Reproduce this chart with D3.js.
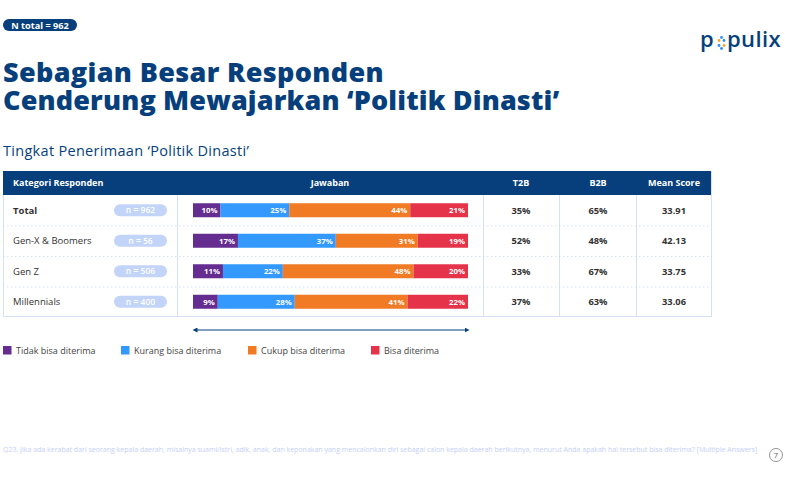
<!DOCTYPE html>
<html><head><meta charset="utf-8">
<script src="https://cdn.jsdelivr.net/npm/d3@7"></script>
<style>body{margin:0;background:#fff}svg{display:block;font-family:"Open Sans",sans-serif}</style>
</head><body><svg id="c" width="785" height="479"></svg>
<script>
const categories = ["Total","Gen-X & Boomers","Gen Z","Millennials"];
const sampleSizes = ["n = 962","n = 56","n = 506","n = 400"];
const seriesNames = ["Tidak bisa diterima","Kurang bisa diterima","Cukup bisa diterima","Bisa diterima"];
const tidak = [10,17,11,9];
const kurang = [25,37,22,28];
const cukup = [44,31,48,41];
const bisa = [21,19,20,22];
const t2b = ["35%","52%","33%","37%"];
const b2b = ["65%","48%","67%","63%"];
const meanScore = ["33.91","42.13","33.75","33.06"];
const colors = ["#662d91","#3399ff","#f07b24","#e5344a"];
const NAVY = "#063f7c";

const svg = d3.select("#c");

// top pill
svg.append("rect").attr("x",3).attr("y",19).attr("width",74).attr("height",12).attr("rx",6).attr("fill",NAVY);
svg.append("text").attr("x",40).attr("y",28.5).attr("text-anchor","middle").attr("fill","#fff")
  .attr("font-size",9.2).attr("font-weight",700).text("N total = 962");

// logo
const logo = svg.append("g").attr("fill",NAVY).attr("font-size",22).attr("font-weight",600);
logo.append("text").attr("x",700).attr("y",47).text("p");
[[719,40.5,"#f5a623"],[724,40.5,"#2d8cff"],[719,45.5,"#2d8cff"],[724,45.5,"#f5a623"],[721.5,37.5,"#2d8cff"],[721.5,48.5,"#2d8cff"]].forEach(d=>{
  svg.append("circle").attr("cx",d[0]).attr("cy",d[1]).attr("r",1.4).attr("fill",d[2]);
});
logo.append("text").attr("x",727).attr("y",47).attr("letter-spacing",0.4).text("pulix");

// title (single text element, two lines)
const title = svg.append("text").attr("fill",NAVY).attr("font-size",27).attr("font-weight",800).attr("letter-spacing",0.35);
title.append("tspan").attr("x",3).attr("y",82).text("Sebagian Besar Responden");
title.append("tspan").attr("x",3).attr("y",110).attr("letter-spacing",0.15).text("Cenderung Mewajarkan \u2018Politik Dinasti\u2019");
svg.append("text").attr("x",3).attr("y",156).attr("fill",NAVY).attr("font-size",14.5).attr("letter-spacing",0.3).text("Tingkat Penerimaan \u2018Politik Dinasti\u2019");

// table
const tableL = 3, tableR = 712, headT = 171, headB = 195, tableB = 317;
const y = d3.scaleBand().domain(categories).range([headB, tableB]);
const x = d3.scaleLinear().domain([0,1]).range([193,468]);
const LINE = "#d5e1f7";

svg.append("rect").attr("x",tableL).attr("y",headT).attr("width",tableR-tableL).attr("height",headB-headT).attr("fill",NAVY);
const hdr = svg.append("g").attr("fill","#fff").attr("font-size",9).attr("font-weight",700);
hdr.append("text").attr("x",13).attr("y",186).text("Kategori Responden");
hdr.append("text").attr("x",330).attr("y",186).attr("text-anchor","middle").text("Jawaban");
hdr.append("text").attr("x",521).attr("y",186).attr("text-anchor","middle").text("T2B");
hdr.append("text").attr("x",598).attr("y",186).attr("text-anchor","middle").text("B2B");
hdr.append("text").attr("x",674).attr("y",186).attr("text-anchor","middle").text("Mean Score");

// borders
const grid = svg.append("g").attr("stroke",LINE).attr("fill","none");
grid.append("line").attr("x1",tableL+0.5).attr("x2",tableL+0.5).attr("y1",headB).attr("y2",tableB);
grid.append("line").attr("x1",tableR-0.5).attr("x2",tableR-0.5).attr("y1",headT).attr("y2",tableB);
grid.append("line").attr("x1",tableL).attr("x2",tableR).attr("y1",tableB-0.5).attr("y2",tableB-0.5);
[177.5,483.5,559.5,636.5].forEach(cx=>grid.append("line").attr("x1",cx).attr("x2",cx).attr("y1",headB).attr("y2",tableB));
categories.slice(1).forEach(c=>{
  grid.append("line").attr("x1",tableL).attr("x2",tableR).attr("y1",y(c)+0.5).attr("y2",y(c)+0.5).attr("stroke-dasharray","1.5,2.5");
});

// stacked data
const rows = categories.map((c,i)=>({cat:c, n:sampleSizes[i], vals:[tidak[i],kurang[i],cukup[i],bisa[i]], t2b:t2b[i], b2b:b2b[i], mean:meanScore[i]}));
const stack = d3.stack().keys([0,1,2,3]).value((d,k)=>d.vals[k]/d3.sum(d.vals))(rows);

const bh = 14;
rows.forEach((r,i)=>{
  const cy = y(r.cat) + y.bandwidth()/2;
  svg.append("text").attr("x",13).attr("y",cy+3.3).attr("font-size",9.5).attr("fill","#333")
    .attr("font-weight", i===0?700:400).text(r.cat);
  svg.append("rect").attr("x",114).attr("y",cy-6).attr("width",53).attr("height",12).attr("rx",6).attr("fill","#c3d4f9");
  svg.append("text").attr("x",140.5).attr("y",cy+3).attr("text-anchor","middle").attr("fill","#fff").attr("font-size",8.5).attr("font-weight",600).text(r.n);
  const cols = svg.append("g").attr("font-size",9.3).attr("font-weight",700).attr("fill","#333").attr("text-anchor","middle");
  cols.append("text").attr("x",521).attr("y",cy+3.3).text(r.t2b);
  cols.append("text").attr("x",598).attr("y",cy+3.3).text(r.b2b);
  cols.append("text").attr("x",674).attr("y",cy+3.3).text(r.mean);
});

stack.forEach((layer,k)=>{
  const g = svg.append("g");
  g.selectAll("rect").data(layer).join("rect")
    .attr("x",d=>x(d[0])).attr("width",d=>x(d[1])-x(d[0]))
    .attr("y",d=>y(d.data.cat)+y.bandwidth()/2-bh/2).attr("height",bh)
    .attr("fill",colors[k]);
  g.selectAll("text").data(layer).join("text")
    .attr("x",d=>x(d[1])-3).attr("y",d=>y(d.data.cat)+y.bandwidth()/2+3)
    .attr("text-anchor","end").attr("fill","#fff").attr("font-size",7.8).attr("font-weight",700)
    .text(d=>d.data.vals[k]+"%");
});

// arrow
const defs = svg.append("defs");
["s","e"].forEach(id=>{
  defs.append("marker").attr("id","m"+id).attr("viewBox","0 0 10 10").attr("refX",5).attr("refY",5)
    .attr("markerWidth",5).attr("markerHeight",5).attr("orient","auto-start-reverse")
    .append("path").attr("d","M0,0L10,5L0,10z").attr("fill",NAVY);
});
svg.append("line").attr("x1",x(0)+2).attr("x2",x(1)-1).attr("y1",330).attr("y2",330)
  .attr("stroke",NAVY).attr("stroke-width",1).attr("marker-start","url(#ms)").attr("marker-end","url(#me)");

// legend
const legX = [3,121,248,371];
seriesNames.forEach((s,k)=>{
  svg.append("rect").attr("x",legX[k]).attr("y",346).attr("width",8.5).attr("height",8.5).attr("fill",colors[k]);
  svg.append("text").attr("x",legX[k]+13).attr("y",353.5).attr("font-size",9).attr("fill","#444").text(s);
});

// footnote
svg.append("text").attr("x",3).attr("y",452).attr("font-size",7).attr("fill","#c4cff7")
  .text("Q23. Jika ada kerabat dari seorang kepala daerah, misalnya suami/istri, adik, anak, dan keponakan yang mencalonkan diri sebagai calon kepala daerah berikutnya, menurut Anda apakah hal tersebut bisa diterima? [Multiple Answers]");
svg.append("circle").attr("cx",776).attr("cy",455).attr("r",6.5).attr("fill","none").attr("stroke","#777").attr("stroke-width",0.8);
svg.append("text").attr("x",776).attr("y",458).attr("text-anchor","middle").attr("font-size",7.5).attr("fill","#555").text("7");
</script></body></html>
